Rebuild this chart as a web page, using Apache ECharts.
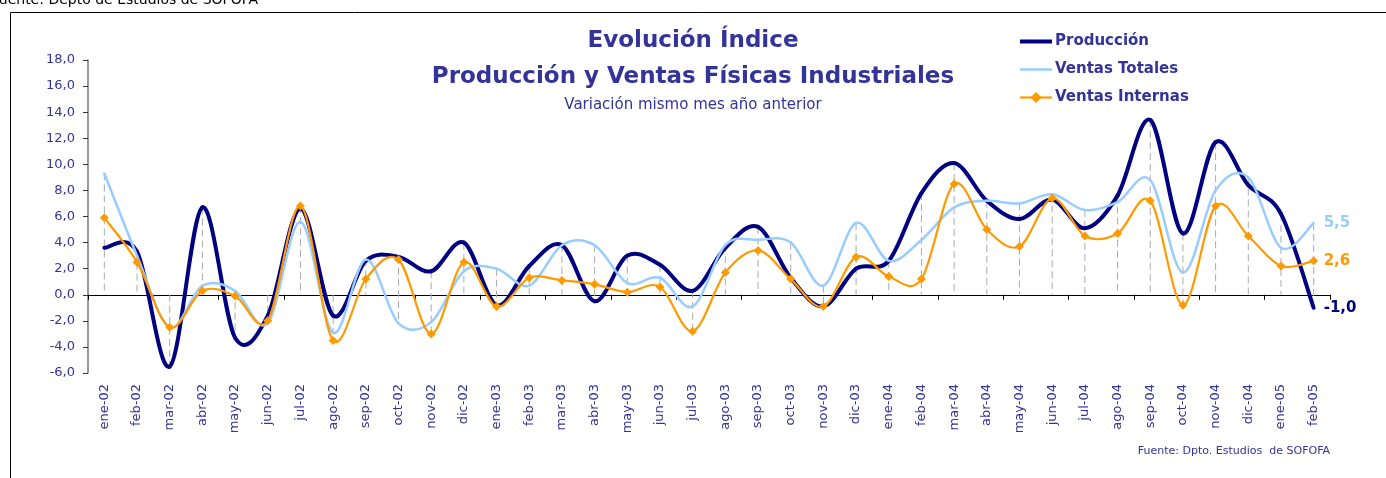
<!DOCTYPE html>
<html>
<head>
<meta charset="utf-8">
<title>Evolución Índice</title>
<script src="https://cdn.jsdelivr.net/npm/echarts@6/dist/echarts.min.js"></script>
<style>
	html, body { margin:0; padding:0; background:#fff; }
	#chart { width:1386px; height:478px; }
</style>
</head>
<body>
<div id="chart"></div>
<script>
'use strict';

//meses ene-02 .. feb-05
var meses = ['ene-02','feb-02','mar-02','abr-02','may-02','jun-02','jul-02','ago-02','sep-02','oct-02','nov-02','dic-02',
	'ene-03','feb-03','mar-03','abr-03','may-03','jun-03','jul-03','ago-03','sep-03','oct-03','nov-03','dic-03',
	'ene-04','feb-04','mar-04','abr-04','may-04','jun-04','jul-04','ago-04','sep-04','oct-04','nov-04','dic-04',
	'ene-05','feb-05'];

var produccion = [3.6, 3.3, -5.5, 6.7, -3.3, -1.6, 6.6, -1.6, 2.6, 2.9, 1.8, 4.0,
	-0.8, 2.2, 3.8, -0.5, 3.0, 2.3, 0.3, 3.6, 5.2, 1.3, -0.9, 2.0,
	2.6, 7.8, 10.1, 7.2, 5.8, 7.3, 5.1, 7.6, 13.4, 4.7, 11.7, 8.4,
	6.2, -1.0];

var ventasTotales = [9.3, 3.0, -2.5, 0.7, 0.3, -2.2, 5.6, -2.9, 2.7, -2.2, -2.1, 1.8,
	2.0, 0.7, 3.8, 3.8, 0.9, 1.3, -0.9, 3.8, 4.2, 4.0, 0.7, 5.5,
	2.6, 4.2, 6.7, 7.2, 7.0, 7.7, 6.5, 7.1, 8.8, 1.7, 8.0, 9.0,
	3.6, 5.5];

var ventasInternas = [5.9, 2.5, -2.5, 0.3, -0.1, -2.0, 6.8, -3.5, 1.2, 2.7, -3.0, 2.5,
	-0.9, 1.3, 1.1, 0.8, 0.2, 0.6, -2.8, 1.7, 3.4, 1.2, -0.9, 2.9,
	1.4, 1.2, 8.5, 5.0, 3.7, 7.4, 4.5, 4.7, 7.2, -0.8, 6.8, 4.5,
	2.2, 2.6];

var yTicks = { min: -6, max: 18, interval: 2 };

var AZUL = '#333399';
var FONT = '"DejaVu Sans", Verdana, sans-serif';
var C_PROD = '#000080', C_TOT = '#99CCFF', C_INT = '#FF9900';

function fmt(v) {
	return v.toFixed(1).replace('.', ',');
}

//lineas verticales (drop lines) de cada mes
var dropLines = meses.map(function(m, i) {
	var vals = [0, produccion[i], ventasTotales[i], ventasInternas[i]];
	return [i, Math.max.apply(null, vals), Math.min.apply(null, vals)];
});

//curva suavizada tipo excel (catmull-rom), un tramo por mes
function curva(name, values, color, width, z) {
	return {
		name: name + ' curva',
		type: 'custom',
		z: z,
		silent: true,
		data: values.map(function(v, i) { return [i, v]; }),
		renderItem: function(params, api) {
			var i = params.dataIndex, n = values.length;
			if (i >= n - 1) return null;
			var pt = function(k) {
				k = Math.max(0, Math.min(n - 1, k));
				return api.coord([k, values[k]]);
			};
			var p0 = pt(i - 1), p1 = pt(i), p2 = pt(i + 1), p3 = pt(i + 2);
			return {
				type: 'bezierCurve',
				shape: {
					x1: p1[0], y1: p1[1], x2: p2[0], y2: p2[1],
					cpx1: p1[0] + (p2[0] - p0[0]) / 6, cpy1: p1[1] + (p2[1] - p0[1]) / 6,
					cpx2: p2[0] - (p3[0] - p1[0]) / 6, cpy2: p2[1] - (p3[1] - p1[1]) / 6
				},
				style: { stroke: color, lineWidth: width, fill: null, lineCap: 'round' }
			};
		}
	};
}

function endLabel(color) {
	return {
		show: true,
		distance: 10,
		color: color,
		fontSize: 15,
		fontWeight: 'bold',
		fontFamily: FONT,
		formatter: function(p) { return fmt(p.value); }
	};
}

var chart = echarts.init(document.getElementById('chart'), null, { renderer: 'canvas' });

chart.setOption({
	animation: false,
	backgroundColor: '#fff',
	textStyle: { fontFamily: FONT },
	title: [{
		text: 'Evolución Índice\nProducción y Ventas Físicas Industriales',
		left: 'center',
		top: 18,
		textStyle: { color: AZUL, fontSize: 23, fontWeight: 'bold', lineHeight: 36, fontFamily: FONT }
	}, {
		text: 'Variación mismo mes año anterior',
		left: 'center',
		top: 93,
		textStyle: { color: AZUL, fontSize: 15, fontWeight: 'normal', fontFamily: FONT }
	}],
	legend: {
		orient: 'vertical',
		left: 1013,
		top: 29,
		itemWidth: 32,
		itemHeight: 14,
		itemGap: 13,
		textStyle: { color: AZUL, fontSize: 15, fontWeight: 'bold', fontFamily: FONT, padding: [0, 0, 0, -2] },
		data: [
			{ name: 'Producción', itemStyle: { opacity: 0 }, lineStyle: { opacity: 1, color: C_PROD, width: 4 } },
			{ name: 'Ventas Totales', itemStyle: { opacity: 0 }, lineStyle: { opacity: 1, color: C_TOT, width: 2.5 } },
			{ name: 'Ventas Internas', lineStyle: { opacity: 1, color: C_INT, width: 2.2 } }
		]
	},
	grid: { left: 88, right: 56, top: 60, bottom: 105, containLabel: false },
	xAxis: [{
		//solo etiquetas abajo
		type: 'category',
		data: meses,
		position: 'bottom',
		axisLine: { show: false, onZero: false },
		axisTick: { show: false },
		axisLabel: { rotate: 90, margin: 11, color: AZUL, fontSize: 13, fontFamily: FONT, interval: 0 }
	}, {
		//eje en cero con marcas
		type: 'category',
		data: meses,
		position: 'bottom',
		axisLine: { show: true, onZero: true, lineStyle: { color: '#000', width: 1 } },
		axisTick: { show: true, length: 5, lineStyle: { color: '#000' } },
		axisLabel: { show: false }
	}],
	yAxis: {
		type: 'value',
		min: yTicks.min,
		max: yTicks.max,
		interval: yTicks.interval,
		axisLine: { show: true, lineStyle: { color: '#777', width: 1.5 } },
		axisTick: { show: true, length: 5, lineStyle: { color: '#333' } },
		splitLine: { show: false },
		axisLabel: {
			margin: 13,
			color: AZUL,
			fontSize: 13,
			fontFamily: FONT,
			formatter: function(v) { return fmt(v); }
		}
	},
	series: [{
		name: 'drop',
		type: 'custom',
		z: 1,
		silent: true,
		data: dropLines,
		renderItem: function(params, api) {
			var top = api.coord([api.value(0), api.value(1)]);
			var bot = api.coord([api.value(0), api.value(2)]);
			return {
				type: 'line',
				shape: { x1: top[0], y1: top[1], x2: bot[0], y2: bot[1] },
				style: { stroke: '#ababab', lineWidth: 1, lineDash: [7, 4] }
			};
		}
	},
	curva('Producción', produccion, C_PROD, 4, 2),
	curva('Ventas Totales', ventasTotales, C_TOT, 2.5, 3),
	curva('Ventas Internas', ventasInternas, C_INT, 2.2, 4),
	{
		//series para leyenda, marcadores y etiqueta final
		name: 'Producción',
		type: 'line',
		z: 5,
		symbol: 'none',
		data: produccion,
		lineStyle: { color: C_PROD, width: 4, opacity: 0 },
		itemStyle: { color: C_PROD },
		endLabel: endLabel(C_PROD)
	}, {
		name: 'Ventas Totales',
		type: 'line',
		z: 5,
		symbol: 'none',
		data: ventasTotales,
		lineStyle: { color: C_TOT, width: 2.5, opacity: 0 },
		itemStyle: { color: C_TOT },
		endLabel: endLabel(C_TOT)
	}, {
		name: 'Ventas Internas',
		type: 'line',
		z: 6,
		symbol: 'diamond',
		symbolSize: 9,
		data: ventasInternas,
		lineStyle: { color: C_INT, width: 2.2, opacity: 0 },
		itemStyle: { color: C_INT },
		endLabel: endLabel(C_INT)
	}],
	graphic: [{
		type: 'rect',
		silent: true,
		shape: { x: 10.5, y: 12.5, width: 1500, height: 600 },
		style: { fill: 'none', stroke: '#000', lineWidth: 1 }
	}, {
		type: 'text',
		silent: true,
		style: { x: 258, y: 7, text: 'Fuente: Depto de Estudios de SOFOFA', align: 'right', verticalAlign: 'bottom', fill: '#000', font: '14px ' + FONT }
	}, {
		type: 'text',
		silent: true,
		style: { x: 1330, y: 451, text: 'Fuente: Dpto. Estudios  de SOFOFA', align: 'right', verticalAlign: 'middle', fill: AZUL, font: '11px ' + FONT }
	}]
});
</script>
</body>
</html>
